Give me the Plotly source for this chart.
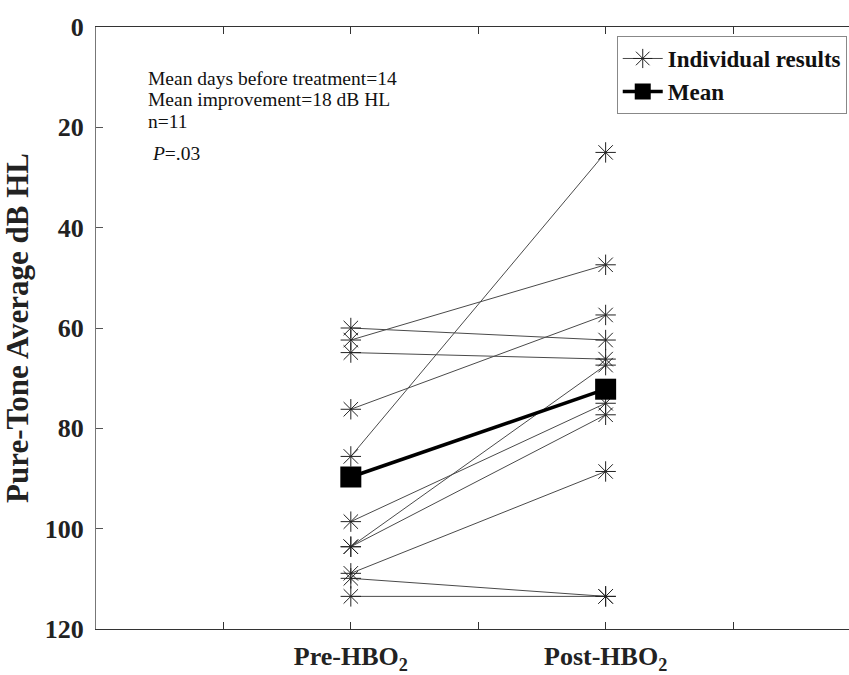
import plotly.graph_objects as go

# ---- data ----
categories = ["Pre-HBO<sub>2</sub>", "Post-HBO<sub>2</sub>"]
pre_values = [60.0, 62.4, 64.9, 76.2, 85.6, 98.6, 103.6, 103.6, 108.9, 109.9, 113.5]
post_values = [62.4, 47.4, 66.2, 57.4, 25.0, 75.0, 67.4, 77.3, 88.6, 113.5, 113.5]
mean_values = [89.7, 72.2]
y_ticks = [0, 20, 40, 60, 80, 100, 120]
annotation_lines = [
    "Mean days before treatment=14",
    "Mean improvement=18 dB HL",
    "n=11",
    " <i>P</i>=.03",
]

# ---- layout constants ----
cat_pos = [2, 4]
FONT = "Liberation Serif, Times New Roman, serif"

fig = go.Figure()

for i, (a, b) in enumerate(zip(pre_values, post_values)):
    fig.add_trace(go.Scatter(
        x=cat_pos, y=[a, b], mode="lines+markers",
        line=dict(color="#4a4a4a", width=1),
        marker=dict(symbol="asterisk-open", size=17, color="#222",
                    line=dict(color="#222", width=1)),
        name="Individual results", showlegend=(i == 0),
        legendgroup="ind",
    ))

fig.add_trace(go.Scatter(
    x=cat_pos, y=mean_values, mode="lines+markers",
    line=dict(color="black", width=3.5),
    marker=dict(symbol="square", size=21, color="black"),
    name="Mean",
))

fig.update_xaxes(
    range=[0, 5.91], tickvals=cat_pos, ticktext=categories,
    ticks="inside", ticklen=7, tickcolor="#333",
    minor=dict(tick0=0, dtick=1, ticks="inside", ticklen=7, tickcolor="#333"),
    showline=True, linecolor="#333", linewidth=1, mirror="ticks",
    showgrid=False, zeroline=False,
    tickfont=dict(family=FONT, size=26, color="#222", weight="bold"),
    ticklabelstandoff=4,
)
fig.update_yaxes(
    range=[120, 0], tickvals=y_ticks,
    ticks="inside", ticklen=7, tickcolor="#555",
    showline=True, linecolor="#777", linewidth=1, mirror=False,
    showgrid=False, zeroline=False,
    tickfont=dict(family=FONT, size=26, color="#222", weight="bold"),
    ticklabelstandoff=6,
    title=dict(text="<b>Pure-Tone Average dB HL</b>",
               font=dict(family=FONT, size=31, color="#222"), standoff=7),
)

for i, t in enumerate(annotation_lines):
    fig.add_annotation(
        xref="paper", yref="paper", x=(146 - 96) / 753, y=(629 - [78, 100, 122, 153][i]) / 602,
        xanchor="left", yanchor="middle", text=t, showarrow=False,
        font=dict(family=FONT, size=19.5, color="#111"),
    )

fig.update_layout(
    width=849, height=675,
    margin=dict(l=96, r=0, t=27, b=46),
    plot_bgcolor="white", paper_bgcolor="white",
    font=dict(family=FONT, color="#222"),
    legend=dict(
        x=0.997, xanchor="right", y=0.985, yanchor="top",
        bordercolor="#888", borderwidth=1, bgcolor="white",
        font=dict(family=FONT, size=23, color="#111", weight="bold"),
        itemwidth=40, tracegroupgap=0,
    ),
)

fig.write_html("out.html")
